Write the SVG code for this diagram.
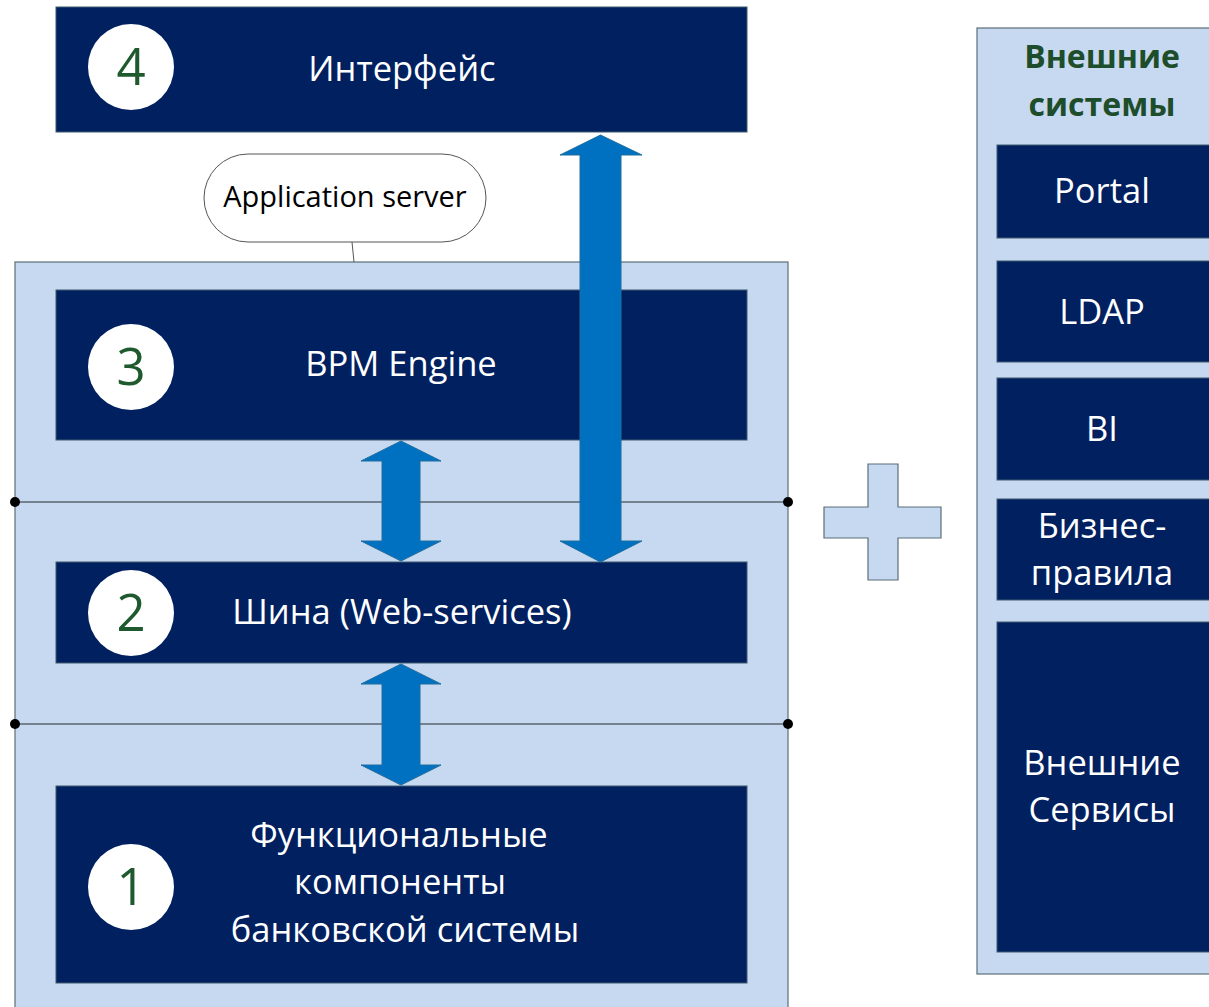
<svg xmlns="http://www.w3.org/2000/svg" width="1209" height="1007" viewBox="0 0 1209 1007">
<style>
.bg{fill:#c6d9f0;stroke:#5a6e78;stroke-width:1.2}
.dk{fill:#002060;stroke:#3e5a6e;stroke-width:1}
.circ{fill:#ffffff}
.num{font-family:"Open Sans","Noto Sans",sans-serif;font-size:51px;fill:#1e5a2e;text-anchor:middle}
.wt{font-family:"Open Sans","Noto Sans",sans-serif;font-size:34.5px;fill:#ffffff;text-anchor:middle}
.ttl{font-family:"Open Sans","Noto Sans",sans-serif;font-size:32px;font-weight:bold;fill:#1e4d2b;text-anchor:middle}
.bk{font-family:"Open Sans","Noto Sans",sans-serif;font-size:29px;fill:#000000;text-anchor:middle}
.arr{fill:#0070c0;stroke:#1f6e9e;stroke-width:1}
.ln{stroke:#5a6470;stroke-width:1.3;fill:none}
</style>
<g id="container">
<rect class="bg" x="15" y="262" width="773" height="760"/>
</g>
<g id="external">
<rect class="bg" x="977" y="28" width="250" height="946"/>
<text class="ttl" x="1102" y="68">Внешние</text>
<text class="ttl" x="1102" y="116">системы</text>
</g>
<g id="portal"><rect class="dk" x="997" y="145" width="230" height="93"/><text class="wt" x="1102" y="203">Portal</text></g>
<g id="ldap"><rect class="dk" x="997" y="261" width="230" height="101"/><text class="wt" x="1102" y="324">LDAP</text></g>
<g id="bi"><rect class="dk" x="997" y="378" width="230" height="102"/><text class="wt" x="1102" y="441">BI</text></g>
<g id="rules"><rect class="dk" x="997" y="499" width="230" height="101"/><text class="wt" x="1102" y="538">Бизнес-</text><text class="wt" x="1102" y="585">правила</text></g>
<g id="extservices"><rect class="dk" x="997" y="622" width="230" height="330"/><text class="wt" x="1102" y="775">Внешние</text><text class="wt" x="1102" y="822">Сервисы</text></g>
<g id="plus">
<path class="bg" d="M868,464 H898 V507 H941 V538 H898 V580 H868 V538 H824 V507 H868 Z"/>
</g>
<g id="appserver">
<rect x="204" y="154" width="282" height="88" rx="44" ry="44" fill="#ffffff" stroke="#555" stroke-width="1"/>
<text class="bk" x="345" y="207">Application server</text>
</g>
<g id="layer4">
<rect class="dk" x="56" y="7" width="691" height="125"/>
<circle class="circ" cx="131" cy="67" r="43"/>
<text class="num" x="131" y="85">4</text>
<text class="wt" x="402" y="81">Интерфейс</text>
</g>
<g id="layer3">
<rect class="dk" x="56" y="290" width="691" height="150"/>
<circle class="circ" cx="131" cy="367" r="43"/>
<text class="num" x="131" y="385">3</text>
<text class="wt" x="401" y="376">BPM Engine</text>
</g>
<g id="layer2">
<rect class="dk" x="56" y="562" width="691" height="101"/>
<circle class="circ" cx="131" cy="613" r="43"/>
<text class="num" x="131" y="631">2</text>
<text class="wt" x="402" y="624">Шина (Web-services)</text>
</g>
<g id="layer1">
<rect class="dk" x="56" y="786" width="691" height="197"/>
<circle class="circ" cx="131" cy="887" r="43"/>
<text class="num" x="131" y="905">1</text>
<text class="wt" x="399" y="847">Функциональные</text>
<text class="wt" x="400" y="894">компоненты</text>
<text class="wt" x="405" y="942">банковской системы</text>
</g>
<g id="connectors">
<line class="ln" x1="15" y1="502" x2="788" y2="502"/>
<line class="ln" x1="15" y1="724" x2="788" y2="724"/>
<circle cx="15" cy="502" r="5" fill="#000"/>
<circle cx="788" cy="502" r="5" fill="#000"/>
<circle cx="15" cy="724" r="5" fill="#000"/>
<circle cx="788" cy="724" r="5" fill="#000"/>
<line x1="352" y1="242" x2="354" y2="262" stroke="#555" stroke-width="1"/>
<path class="arr" d="M401,441 L441,461 H420 V541 H441 L401,561 L361,541 H382 V461 H361 Z"/>
<path class="arr" d="M401,664 L441,684 H420 V765 H441 L401,785 L361,765 H382 V684 H361 Z"/>
<path class="arr" d="M600.5,135 L642,155 H621 V541 H642 L600.5,562 L560,541 H580 V155 H560 Z"/>
</g>
</svg>
